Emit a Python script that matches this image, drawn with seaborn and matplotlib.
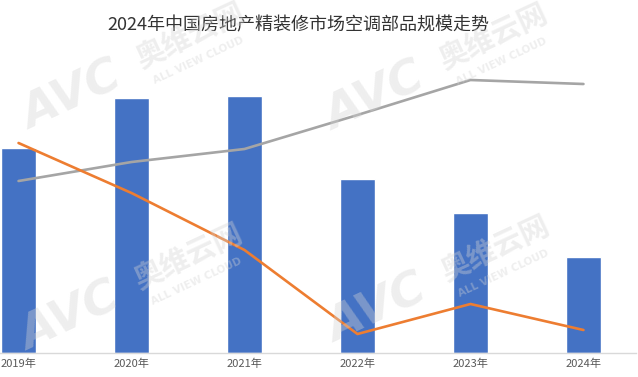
import pandas as pd
import matplotlib.pyplot as plt
import seaborn as sns

sns.set_theme(style="white")
plt.rcParams["font.family"] = ["Noto Sans CJK SC", "DejaVu Sans"]

# values (relative scale)
years = ["2019年", "2020年", "2021年", "2022年", "2023年", "2024年"]
bar_vals = [205, 255, 257, 174, 140, 96]
orange_vals = [210, 160, 103, 19, 49, 23]
gray_vals = [172, 191, 204, 238, 273, 269]

df = pd.DataFrame({"year": years, "bar": bar_vals,
                   "orange": orange_vals, "gray": gray_vals})

fig = plt.figure(figsize=(6.38, 3.77), dpi=100)
ax = fig.add_axes([0, 24 / 377, 636 / 638, 300 / 377])

sns.barplot(data=df, x="year", y="bar", color="#4472C4", width=0.31,
            saturation=1, ax=ax)
sns.lineplot(data=df, x="year", y="gray", color="#A5A5A5", linewidth=1.9,
             ax=ax)
sns.lineplot(data=df, x="year", y="orange", color="#ED7D31", linewidth=1.9,
             ax=ax)

ax.set_xlim(-0.164, 5.465)
ax.set_ylim(0, 300)
ax.set_xlabel("")
ax.set_ylabel("")
ax.set_yticks([])
for side in ["left", "right", "top"]:
    ax.spines[side].set_visible(False)
ax.spines["bottom"].set_color("#D9D9D9")
ax.spines["bottom"].set_linewidth(1)
ax.tick_params(axis="x", length=0, pad=4, labelsize=8, labelcolor="#595959")

fig.text(298 / 638, 1 - 25 / 377, "2024年中国房地产精装修市场空调部品规模走势",
         ha="center", va="center", fontsize=13, color="#333333")

# faint watermarks (pixel centres of the "AVC" part)
marks = [(72, 97), (375, 98), (70, 318), (377, 310)]
wm = dict(rotation=25, color="#D4D4D4", alpha=0.38, ha="center",
          va="center", fontweight="bold")
for mx, my in marks:
    fig.text(mx / 638, 1 - my / 377, "AVC", fontsize=34, style="italic",
             family="DejaVu Sans", **wm)
    fig.text((mx + 118) / 638, 1 - (my - 62) / 377, "奥维云网", fontsize=21, **wm)
    fig.text((mx + 126) / 638, 1 - (my - 37) / 377, "ALL VIEW CLOUD",
             fontsize=7.5, family="DejaVu Sans", **wm)

fig.savefig("out.png", dpi=100)
